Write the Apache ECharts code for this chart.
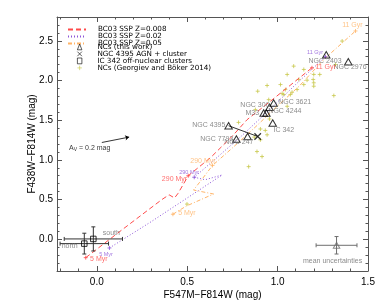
<!DOCTYPE html>
<html><head><meta charset="utf-8">
<script src="https://cdn.jsdelivr.net/npm/echarts@6/dist/echarts.min.js"></script>
<style>html,body{margin:0;padding:0;background:#fff}#c{width:384px;height:307px}</style>
</head><body><div id="c"></div>
<script>
// ---- data ----
const ncNames = ['NGC 2403','NGC 2976','NGC 3621','NGC 300','NGC 4244','M33','IC 342','NGC 4395','NGC 7793','NGC 247'];
const ncX = [1.269,1.391,0.978,0.955,0.938,0.923,0.973,0.729,0.772,0.834];
const ncY = [2.325,2.237,1.717,1.662,1.591,1.591,1.464,1.430,1.262,1.295];
const agnX = [0.890];
const agnY = [1.295];
const icNames = ['south','north'];
const icX = [-0.019,-0.069];
const icXerr = [0.161,0.134];
const icY = [0.004,-0.055];
const icYerr = [0.152,0.131];
const meanX = [1.326], meanY = [-0.076], meanXerr = [0.113], meanYerr = [0.11];
const gbX = [1.089,1.053,1.145,1.200,1.233,1.117,1.145,1.200,1.200,1.108,1.080,1.071,1.034,1.016,0.942,0.890,1.311,1.053,0.951,0.784,0.905,0.932,0.942,0.871,0.886,0.914,0.840,0.955,0.499,1.357,1.320,1.163,1.197,1.025,1.043,0.877,0.905];
const gbY = [2.181,2.076,2.139,2.076,2.076,2.013,1.949,1.971,1.928,1.886,1.852,1.823,1.823,1.949,1.937,1.865,1.810,1.675,1.759,1.472,1.389,1.371,1.316,1.287,1.105,1.042,0.915,1.515,0.443,2.497,2.200,2.004,2.013,1.835,1.886,1.633,1.253];
// BC03 tracks
const z008X = [-0.061,0.10,0.25,0.36,0.40,0.43,0.45,0.506,0.63,0.75,0.831,0.95,1.07,1.19];
const z008Y = [-0.232,0.05,0.31,0.50,0.56,0.52,0.58,0.80,1.03,1.30,1.506,1.72,1.94,2.16];
const z02X = [0.070,0.30,0.50,0.693,0.60,0.539,0.65,0.80,0.95,1.10,1.265];
const z02Y = [-0.110,0.22,0.52,0.810,0.75,0.781,1.00,1.30,1.62,1.95,2.300];
const z05X = [0.421,0.495,0.646,0.535,0.58,0.64,0.75,0.88,1.00,1.12,1.256,1.431];
const z05Y = [0.315,0.418,0.570,0.620,0.75,0.93,1.15,1.42,1.68,1.93,2.266,2.624];
const ageLabels = ['5 Myr','290 Myr','11 Gyr'];
const z008AgeIdx = [0,7,13], z02AgeIdx = [0,5,10], z05AgeIdx = [0,5,11];
// annotation text positions (data coords)
const ncLabelX = [1.171,1.309,1.003,0.794,0.949,0.822,0.977,0.528,0.572,0.705];
const ncLabelY = [2.244,2.165,1.725,1.696,1.611,1.591,1.380,1.439,1.262,1.219];
const ageLabX = {z008:[-0.037,0.360,1.209], z02:[0.013,0.456,1.163], z05:[0.45,0.517,1.357]};
const ageLabY = {z008:[-0.249,0.756,2.165], z02:[-0.19,0.839,2.358], z05:[0.325,0.991,2.696]};
const icLabX = [0.033,-0.194], icLabY = [0.08,-0.085];
const avStart = [0.028,1.219], avEnd = [0.179,1.287];

const RED='#ff4a4a', PUR='#8c55d8', ORA='#ffb468', YEL='#c8c84c', GRY='#6e6e6e';
const zip = (a,b)=>a.map((v,i)=>[v,b[i]]);
function ageMarks(xs,ys,idx){ return idx.map(i=>[xs[i],ys[i]]); }

const annots = [];
ncNames.forEach((n,i)=>annots.push({value:[ncLabelX[i],ncLabelY[i]],name:n,color:GRY,size:7}));
const trackC = {z008:RED,z02:PUR,z05:ORA};
['z008','z02','z05'].forEach(k=>ageLabels.forEach((t,i)=>annots.push({value:[ageLabX[k][i],ageLabY[k][i]],name:t,color:trackC[k],size:k==='z02'?5.5:7})));
icNames.forEach((n,i)=>annots.push({value:[icLabX[i],icLabY[i]],name:n,color:GRY,size:7}));

const chart = echarts.init(document.getElementById('c'),null,{renderer:'canvas'});
const axisCommon = {
  type:'value', splitLine:{show:false},
  axisLine:{show:true,onZero:false,lineStyle:{color:'#555',width:1}},
  axisTick:{show:true,inside:true,length:5,lineStyle:{color:'#555'}},
  minorTick:{show:true,splitNumber:5,length:2.5,lineStyle:{color:'#555'}},
};
function errRender(params, api){
  const x=api.value(0), y=api.value(1), ex=api.value(2), ey=api.value(3);
  const l=api.coord([x-ex,y]), r=api.coord([x+ex,y]), t=api.coord([x,y+ey]), b=api.coord([x,y-ey]);
  const c=2;
  const st={stroke:api.visual('color')||'#333',lineWidth:1};
  return {type:'group',children:[
    {type:'line',shape:{x1:l[0],y1:l[1],x2:r[0],y2:r[1]},style:st},
    {type:'line',shape:{x1:l[0],y1:l[1]-c,x2:l[0],y2:l[1]+c},style:st},
    {type:'line',shape:{x1:r[0],y1:r[1]-c,x2:r[0],y2:r[1]+c},style:st},
    {type:'line',shape:{x1:t[0],y1:t[1],x2:b[0],y2:b[1]},style:st},
    {type:'line',shape:{x1:t[0]-c,y1:t[1],x2:t[0]+c,y2:t[1]},style:st},
    {type:'line',shape:{x1:b[0]-c,y1:b[1],x2:b[0]+c,y2:b[1]},style:st}
  ]};
}
const plusPath = 'path://M5,0L5,10M0,5L10,5';
const xPath = 'path://M0,0L10,10M10,0L0,10';
const legTxt = {fontFamily:'DejaVu Sans',fontSize:7.2,lineHeight:5.8,color:'#000'};
const legSym = {color:'transparent',borderColor:'#000',borderWidth:0.8};

chart.setOption({
  animation:false,
  textStyle:{fontFamily:'Liberation Sans'},
  grid:{left:57,right:16,top:17,bottom:36},
  xAxis:[
    Object.assign({},axisCommon,{min:-0.22,max:1.5,splitNumber:4,position:'bottom',
      axisLabel:{showMinLabel:false,showMaxLabel:true,fontSize:10,color:'#000',margin:6,formatter:v=>v.toFixed(1)},
      name:'F547M\u2212F814W (mag)',nameLocation:'middle',nameGap:19,nameMoveOverlap:false,nameTextStyle:{fontSize:10,color:'#000'}}),
    Object.assign({},axisCommon,{min:-0.22,max:1.5,splitNumber:4,position:'top',axisLabel:{show:false}})
  ],
  yAxis:[
    Object.assign({},axisCommon,{min:-0.4,max:2.8,splitNumber:6,position:'left',
      axisLabel:{showMinLabel:false,showMaxLabel:false,fontSize:10,color:'#000',margin:4,formatter:v=>v.toFixed(1)}}),
    Object.assign({},axisCommon,{min:-0.4,max:2.8,splitNumber:6,position:'right',axisLabel:{show:false}}),
    {type:'value',min:-0.4,max:2.8,position:'left',splitLine:{show:false},
      axisLine:{show:false},axisTick:{show:false},axisLabel:{show:false},
      name:'F438W\u2212F814W (mag)',nameLocation:'middle',nameGap:20,nameTextStyle:{fontSize:10,color:'#000'}}
  ],
  legend:[{
    orient:'vertical',left:67,top:26,itemWidth:18,itemHeight:5.8,itemGap:0,padding:0,
    itemStyle:{opacity:0},
    textStyle:Object.assign({padding:[0,0,0,7]},legTxt),
    data:['BC03 SSP Z=0.008','BC03 SSP Z=0.02','BC03 SSP Z=0.05']
  },{
    orient:'vertical',left:77,top:43.4,itemWidth:4.5,itemHeight:5.8,itemGap:0,padding:0,
    textStyle:Object.assign({padding:[0,0,0,10.5]},legTxt),
    data:[
      {name:'NCs (this work)',itemStyle:legSym},
      {name:'NGC 4395 AGN + cluster',itemStyle:legSym},
      {name:'IC 342 off-nuclear clusters',itemStyle:legSym},
      {name:'NCs (Georgiev and B\u00f6ker 2014)',itemStyle:{color:'transparent',borderColor:YEL,borderWidth:0.8}}]
  }],
  series:[
    {name:'NCs (Georgiev and B\u00f6ker 2014)',type:'scatter',symbol:plusPath,symbolSize:4,
      itemStyle:{color:'none',borderColor:YEL,borderWidth:1},data:zip(gbX,gbY),z:1},
    {name:'BC03 SSP Z=0.008',type:'line',showSymbol:false,symbol:'none',lineStyle:{color:RED,width:1,type:[5,3]},itemStyle:{color:RED},data:zip(z008X,z008Y),z:2},
    {name:'BC03 SSP Z=0.02',type:'line',showSymbol:false,symbol:'none',lineStyle:{color:PUR,width:1,type:[1,2]},itemStyle:{color:PUR},data:zip(z02X,z02Y),z:2},
    {name:'BC03 SSP Z=0.05',type:'line',showSymbol:false,symbol:'none',lineStyle:{color:ORA,width:1,type:[4,2,1,2]},itemStyle:{color:ORA},data:zip(z05X,z05Y),z:2},
    {type:'scatter',symbol:plusPath,symbolSize:4,itemStyle:{color:'none',borderColor:RED,borderWidth:1},data:ageMarks(z008X,z008Y,z008AgeIdx),z:3},
    {type:'scatter',symbol:plusPath,symbolSize:4,itemStyle:{color:'none',borderColor:PUR,borderWidth:1},data:ageMarks(z02X,z02Y,z02AgeIdx),z:3},
    {type:'scatter',symbol:plusPath,symbolSize:4,itemStyle:{color:'none',borderColor:ORA,borderWidth:1},data:ageMarks(z05X,z05Y,z05AgeIdx),z:3},
    {type:'line',symbol:'none',lineStyle:{color:'#000',width:0.8},data:[[ncX[7],ncY[7]],[agnX[0],agnY[0]]],z:4},
    {name:'NCs (this work)',type:'scatter',symbol:'triangle',symbolSize:[7.5,6.5],
      itemStyle:{color:'none',borderColor:'#000',borderWidth:1},data:zip(ncX,ncY),z:5},
    {name:'NGC 4395 AGN + cluster',type:'scatter',symbol:xPath,symbolSize:6.5,
      itemStyle:{color:'none',borderColor:'#000',borderWidth:1.2},data:zip(agnX,agnY),z:5},
    {name:'IC 342 off-nuclear clusters',type:'scatter',symbol:'rect',symbolSize:5.5,
      itemStyle:{color:'none',borderColor:'#000',borderWidth:1},data:zip(icX,icY),z:5},
    {type:'custom',renderItem:errRender,itemStyle:{color:'#333'},data:icX.map((v,i)=>[v,icY[i],icXerr[i],icYerr[i]]),z:4},
    {type:'custom',renderItem:errRender,itemStyle:{color:GRY},data:meanX.map((v,i)=>[v,meanY[i],meanXerr[i],meanYerr[i]]),z:4},
    {type:'scatter',symbol:'triangle',symbolSize:[6.5,6],itemStyle:{color:'none',borderColor:GRY,borderWidth:1},data:zip(meanX,meanY),z:5},
    {type:'lines',coordinateSystem:'cartesian2d',symbol:['none','arrow'],symbolSize:4,
      lineStyle:{color:'#000',width:0.8,opacity:1},data:[{coords:[avStart,avEnd]}],z:5},
    {type:'scatter',symbolSize:0,silent:true,z:6,
      data:annots.map(a=>({value:a.value,name:a.name,label:{color:a.color,fontSize:a.size}})),
      label:{show:true,position:'right',distance:0,formatter:p=>p.name,fontFamily:'Liberation Sans'}},
    {type:'scatter',symbolSize:0,silent:true,z:6,
      data:[{value:[1.304,-0.278],name:'mean uncertainties'}],
      label:{show:true,position:'inside',formatter:p=>p.name,color:GRY,fontSize:7}},
    {type:'scatter',symbolSize:0,silent:true,z:6,
      data:[{value:[-0.153,1.152],name:'av'}],
      label:{show:true,position:'right',distance:0,color:'#000',fontSize:7,
        formatter:()=>'{a|A}{s|V}{a| = 0.2 mag}',rich:{a:{fontSize:7,color:'#000'},s:{fontSize:5,color:'#000',padding:[4,0,0,0]}}}}
  ]
});
</script></body></html>
